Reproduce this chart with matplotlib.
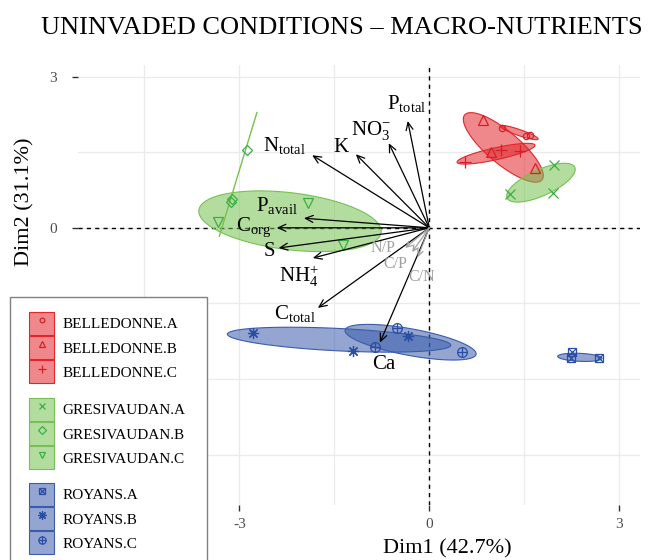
import numpy as np
import matplotlib
matplotlib.use("Agg")
import matplotlib.pyplot as plt
from matplotlib.patches import Patch, Rectangle, Polygon
from matplotlib.lines import Line2D
from matplotlib.colors import to_rgba

plt.rcParams['font.family'] = ['Liberation Serif', 'DejaVu Serif']
plt.rcParams['mathtext.fontset'] = 'custom'
plt.rcParams['mathtext.rm'] = 'Liberation Serif'
plt.rcParams['mathtext.it'] = 'Liberation Serif:italic'
plt.rcParams['axes.unicode_minus'] = False

# individuals (PCA scores, Dim1 / Dim2), 3 replicates per group
GROUPS = ["BELLEDONNE.A", "BELLEDONNE.B", "BELLEDONNE.C",
          "GRESIVAUDAN.A", "GRESIVAUDAN.B", "GRESIVAUDAN.C",
          "ROYANS.A", "ROYANS.B", "ROYANS.C"]
IND_X = [[1.15, 1.53, 1.59], [0.85, 0.97, 1.67], [0.56, 1.13, 1.43],
         [1.97, 1.27, 1.95], [-2.88, -3.13, -3.11], [-1.91, -3.34, -1.36],
         [2.25, 2.24, 2.68], [-2.79, -1.21, -0.34], [-0.51, -0.86, 0.52]]
IND_Y = [[1.98, 1.82, 1.84], [2.14, 1.50, 1.19], [1.30, 1.54, 1.52],
         [1.24, 0.67, 0.69], [1.54, 0.51, 0.58], [0.49, 0.11, -0.34],
         [-2.47, -2.59, -2.59], [-2.09, -2.45, -2.15], [-1.99, -2.37, -2.47]]

# confidence ellipses: major axis end points + minor/major ratio
ELL_X1 = [1.12, 0.56, 0.44, 1.23, -2.72, -3.64, 2.03, -3.19, -1.33]
ELL_Y1 = [2.02, 2.24, 1.30, 0.59, 2.30, 0.35, -2.55, -2.11, -2.03]
ELL_X2 = [1.72, 1.78, 1.67, 2.30, -3.32, -0.76, 2.73, 0.34, 0.74]
ELL_Y2 = [1.76, 0.95, 1.64, 1.20, -0.18, -0.09, -2.59, -2.33, -2.51]
ELL_RATIO = [0.15, 0.32, 0.15, 0.35, 0.0, 0.31, 0.18, 0.10, 0.20]

# variables (arrows)
VAR_LABELS = [r"$\mathregular{P_{total}}$", r"$\mathregular{NO_3^{-}}$", "K",
              r"$\mathregular{N_{total}}$", r"$\mathregular{P_{avail}}$",
              r"$\mathregular{C_{org}}$", "S", r"$\mathregular{NH_4^{+}}$",
              r"$\mathregular{C_{total}}$", "Ca"]
VAR_X = [-0.34, -0.64, -1.16, -1.85, -1.98, -2.41, -2.38, -1.84, -1.76, -0.78]
VAR_Y = [2.12, 1.68, 1.46, 1.44, 0.19, 0.00, -0.40, -0.60, -1.59, -2.28]
LAB_X = [-0.35, -0.92, -1.39, -2.29, -2.40, -2.77, -2.53, -2.06, -2.13, -0.72]
LAB_Y = [2.47, 1.94, 1.60, 1.64, 0.45, 0.01, -0.48, -0.96, -1.70, -2.72]

# minor (grey) variables
RAT_LABELS = ["N/P", "C/P", "C/N"]
RAT_X = [-0.38, -0.27, -0.18]
RAT_Y = [-0.40, -0.48, -0.58]
RLAB_X = [-0.73, -0.54, -0.12]
RLAB_Y = [-0.40, -0.72, -0.98]

FILL = ["#e2262b"] * 3 + ["#76c150"] * 3 + ["#3a5cab"] * 3
FILL_ALPHA = [0.55] * 3 + [0.55] * 3 + [0.55] * 3
MCOL = ["#d81e28"] * 3 + ["#3aae45"] * 3 + ["#2a4ea3"] * 3
MARKERS = [["o"], ["^"], ["+"], ["x"], ["D"], ["v"],
           ["s", "x"], [(8, 2, 0)], ["o", "+"]]
MSIZE = [4.5, 6.5, 8, 6.5, 5, 6.5, 6, 8, 7]

XLIM = (-5.55, 3.33)
YLIM = (-5.50, 3.23)

fig = plt.figure(figsize=(6.49, 5.60), dpi=100)
ax = fig.add_axes([78 / 649, 55 / 560, 562 / 649, 440 / 560])
ax.set_xlim(*XLIM)
ax.set_ylim(*YLIM)
for s in ax.spines.values():
    s.set_visible(False)

ax.set_xticks([-3, 0, 3])
ax.set_yticks([-3, 0, 3])
ax.set_xticks([-4.5, -1.5, 1.5], minor=True)
ax.set_yticks([-4.5, -1.5, 1.5], minor=True)
ax.grid(True, which="both", color="#ebebeb", lw=0.9)
ax.set_axisbelow(True)
ax.tick_params(which="minor", length=0)
ax.tick_params(which="major", length=4, width=1, color="#333333",
               labelcolor="#4d4d4d", labelsize=11)
ax.tick_params(axis="x", pad=5)
ax.tick_params(axis="y", pad=11)

ax.axhline(0, color="black", ls=(0, (3, 3)), lw=1, zorder=1)
ax.axvline(0, color="black", ls=(0, (3, 3)), lw=1, zorder=1)

# px per data unit, to keep ellipse minor axis perpendicular on screen
pos = ax.get_position()
sx = pos.width * 649 / (XLIM[1] - XLIM[0])
sy = pos.height * 560 / (YLIM[1] - YLIM[0])
t = np.linspace(0, 2 * np.pi, 120)

for i in range(len(GROUPS)):
    if ELL_RATIO[i] == 0:
        # degenerate ellipse (collinear points) -> just a line
        ax.plot([ELL_X1[i], ELL_X2[i]], [ELL_Y1[i], ELL_Y2[i]],
                color=FILL[i], lw=1.0, zorder=2, solid_capstyle="butt")
        continue
    cx = (ELL_X1[i] + ELL_X2[i]) / 2
    cy = (ELL_Y1[i] + ELL_Y2[i]) / 2
    ux = (ELL_X2[i] - ELL_X1[i]) / 2
    uy = (ELL_Y2[i] - ELL_Y1[i]) / 2
    vx = -uy * sy * ELL_RATIO[i] / sx
    vy = ux * sx * ELL_RATIO[i] / sy
    ex = cx + np.cos(t) * ux + np.sin(t) * vx
    ey = cy + np.cos(t) * uy + np.sin(t) * vy
    ax.add_patch(Polygon(np.column_stack([ex, ey]), closed=True,
                         fc=to_rgba(FILL[i], FILL_ALPHA[i]),
                         ec=FILL[i], lw=0.8, zorder=2))

for i in range(len(GROUPS)):
    for m in MARKERS[i]:
        ax.plot(IND_X[i], IND_Y[i], ls="none", marker=m, ms=MSIZE[i],
                mfc="none", mec=MCOL[i], mew=0.9, zorder=4)

# arrows
for i in range(len(VAR_X)):
    ax.annotate("", xy=(VAR_X[i], VAR_Y[i]), xytext=(0, 0),
                arrowprops=dict(arrowstyle="->,head_length=0.55,head_width=0.25",
                                color="black", lw=0.9, shrinkA=0, shrinkB=0),
                zorder=5)
    ax.text(LAB_X[i], LAB_Y[i], VAR_LABELS[i], fontsize=15, ha="center",
            va="center", zorder=6)

for i in range(len(RAT_X)):
    ax.annotate("", xy=(RAT_X[i], RAT_Y[i]), xytext=(0, 0),
                arrowprops=dict(arrowstyle="->,head_length=0.4,head_width=0.2",
                                color="#a0a0a0", lw=0.9, shrinkA=0, shrinkB=0),
                zorder=5)
    ax.text(RLAB_X[i], RLAB_Y[i], RAT_LABELS[i], fontsize=11.5, ha="center",
            va="center", color="#a0a0a0", zorder=6)

# titles
fig.text(342 / 649, 1 - 28 / 560, "UNINVADED CONDITIONS – MACRO-NUTRIENTS",
         ha="center", va="center", fontsize=19)
fig.text(447 / 649, 1 - 549 / 560, "Dim1 (42.7%)", ha="center", va="center",
         fontsize=16)
fig.text(25 / 649, 1 - 202 / 560, "Dim2 (31.1%)", ha="center", va="center",
         fontsize=16, rotation=90)

# legend: frame + three blocks
fig.add_artist(Rectangle((10 / 649, -0.02), 197 / 649, 263 / 560 + 0.02,
                         transform=fig.transFigure, fc="white", ec="#808080",
                         lw=1, zorder=4))
tops = [312, 398, 483]
for g in range(3):
    handles, labels = [], []
    for i in range(3 * g, 3 * g + 3):
        patch = Patch(fc=to_rgba(FILL[i], FILL_ALPHA[i]), ec=FILL[i], lw=0.8)
        marks = [Line2D([], [], ls="none", marker=m, ms=MSIZE[i] * 0.75,
                        mfc="none", mec=MCOL[i], mew=0.9) for m in MARKERS[i]]
        handles.append(tuple([patch] + marks))
        labels.append(GROUPS[i])
    fig.legend(handles, labels, loc="upper left",
               bbox_to_anchor=(29 / 649, 1 - tops[g] / 560),
               bbox_transform=fig.transFigure, frameon=False, fontsize=11,
               handlelength=1.64, handleheight=1.95, labelspacing=0.07,
               handletextpad=0.55, borderpad=0, borderaxespad=0)

fig.savefig("out.png", dpi=100)
